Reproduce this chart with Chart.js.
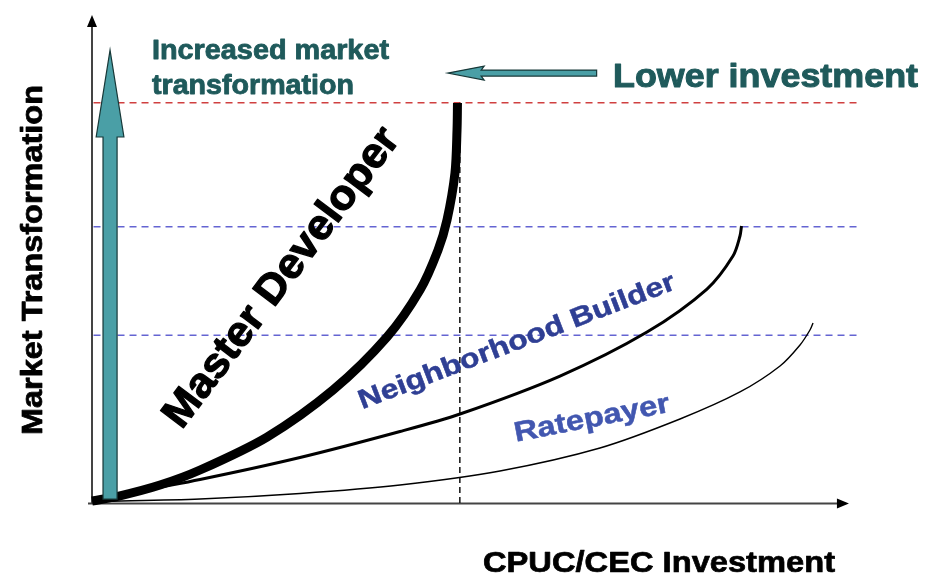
<!DOCTYPE html>
<html>
<head>
<meta charset="utf-8">
<script src="https://cdn.jsdelivr.net/npm/chart.js@4.4.1/dist/chart.umd.min.js"></script>
<style>
html,body{margin:0;padding:0;background:#fff;}
#wrap{width:926px;height:574px;position:relative;}
</style>
</head>
<body>
<div id="wrap"><canvas id="c"></canvas></div>
<script>
// ---- data (axis units 0..100) ----
const seriesNames = ['Master Developer', 'Neighborhood Builder', 'Ratepayer'];
const xMaster = [0, 3.68, 8.95, 14.21, 23.03, 31.71, 38.82, 43.16, 45.53, 46.71, 47.76, 48.03, 48.09];
const yMaster = [0.41, 1.48, 3.69, 6.76, 13.52, 23.16, 34.02, 43.65, 51.84, 57.99, 67.62, 76.43, 81.97];
const xNeighborhood = [1.05, 14.21, 27.37, 40.53, 48.42, 61.58, 73.03, 80.92, 84.34, 85.26, 85.46];
const yNeighborhood = [0.92, 4.82, 9.32, 14.65, 18.24, 26.02, 35.04, 43.85, 50.61, 54.71, 56.76];
const xRatepayer = [1.05, 14.21, 27.37, 40.53, 53.68, 66.84, 77.37, 85.26, 90.53, 93.16, 94.47, 94.87];
const yRatepayer = [0.31, 0.82, 1.95, 3.69, 6.56, 11.27, 17.21, 22.75, 28.07, 32.38, 35.45, 36.89];
const levelTop = 82;          // red dashed level
const levelsBlue = [56.6, 34.4];
const levelSpan = [0.2, 100.7];
const investX = 48.4;         // vertical dashed marker
const axisTitleX = 'CPUC/CEC Investment';
const axisTitleY = 'Market Transformation';
const noteUp = ['Increased market', 'transformation'];
const noteLeft = 'Lower investment';

const pts = (xs, ys) => xs.map((x, i) => ({x, y: ys[i]}));

const datasets = [
  {label: seriesNames[0], data: pts(xMaster, yMaster), borderColor: '#000', borderWidth: 9, tension: 0.3, order: 1, borderCapStyle: 'butt'},
  {label: seriesNames[1], data: pts(xNeighborhood, yNeighborhood), borderColor: '#000', borderWidth: 3, tension: 0.3, order: 2},
  {label: seriesNames[2], data: pts(xRatepayer, yRatepayer), borderColor: '#000', borderWidth: 1.4, tension: 0.3, order: 3},
  {label: 'top', data: pts(levelSpan, [levelTop, levelTop]), borderColor: '#d04040', borderWidth: 1.5, borderDash: [7, 5], order: 6},
  {label: 'b1', data: pts(levelSpan, [levelsBlue[0], levelsBlue[0]]), borderColor: '#6464d2', borderWidth: 1.5, borderDash: [7, 5], order: 6},
  {label: 'b2', data: pts(levelSpan, [levelsBlue[1], levelsBlue[1]]), borderColor: '#6464d2', borderWidth: 1.5, borderDash: [7, 5], order: 6},
  {label: 'v', data: pts([investX, investX], [0, levelTop]), borderColor: '#111', borderWidth: 1.5, borderDash: [6, 4], order: 5}
].map(d => Object.assign({showLine: true, pointRadius: 0, fill: false, clip: false}, d));

function stretchText(ctx, txt, x, y, angle, size, width, color, align, baseline, weight) {
  ctx.save();
  ctx.font = 'bold ' + size + 'px "Liberation Sans", Arial, sans-serif';
  const w = ctx.measureText(txt).width;
  const s = width / w;
  ctx.translate(x, y);
  ctx.rotate(angle);
  ctx.scale(s, 1);
  ctx.fillStyle = color;
  ctx.strokeStyle = color;
  ctx.lineJoin = 'round';
  ctx.lineWidth = (weight || 1) / s;
  ctx.textAlign = align || 'left';
  ctx.textBaseline = baseline || 'alphabetic';
  ctx.fillText(txt, 0, 0);
  ctx.strokeText(txt, 0, 0);
  ctx.restore();
}

const decor = {
  id: 'decor',
  beforeDatasetsDraw(chart) {
    const ctx = chart.ctx, xs = chart.scales.x, ys = chart.scales.y;
    const x0 = xs.getPixelForValue(0), y0 = ys.getPixelForValue(0);
    const yTop = ys.getPixelForValue(100), xEnd = xs.getPixelForValue(99.6);
    ctx.save();
    ctx.strokeStyle = '#444';
    ctx.lineWidth = 2;
    ctx.beginPath();
    ctx.moveTo(x0, y0); ctx.lineTo(x0, yTop + 8);
    ctx.moveTo(x0 - 4, y0 + 0.5); ctx.lineTo(xEnd - 8, y0 + 0.5);
    ctx.stroke();
    ctx.fillStyle = '#000';
    ctx.beginPath();
    ctx.moveTo(x0, yTop); ctx.lineTo(x0 - 5, yTop + 12); ctx.lineTo(x0 + 5, yTop + 12); ctx.closePath();
    ctx.fill();
    ctx.beginPath();
    ctx.moveTo(xEnd, y0 + 0.5); ctx.lineTo(xEnd - 12, y0 - 4.5); ctx.lineTo(xEnd - 12, y0 + 5.5); ctx.closePath();
    ctx.fill();
    ctx.restore();
  },
  afterDatasetsDraw(chart) {
    const ctx = chart.ctx, xs = chart.scales.x, ys = chart.scales.y;
    const px = v => xs.getPixelForValue(v), py = v => ys.getPixelForValue(v);
    ctx.save();
    // vertical teal arrow
    ctx.fillStyle = '#4a9fa6';
    ctx.strokeStyle = '#173838';
    ctx.lineWidth = 1.2;
    ctx.beginPath();
    const sx1 = px(1.45), sx2 = px(3.3), sb = py(0.8), hb = py(75), tip = py(92.8);
    const hx1 = px(0.55), hx2 = px(4.2), hc = (sx1 + sx2) / 2;
    ctx.moveTo(sx1, sb); ctx.lineTo(sx1, hb); ctx.lineTo(hx1, hb); ctx.lineTo(hc, tip);
    ctx.lineTo(hx2, hb); ctx.lineTo(sx2, hb); ctx.lineTo(sx2, sb); ctx.closePath();
    ctx.fill(); ctx.stroke();
    // horizontal teal arrow
    const tx = px(46.8), ty = py(88.1), bx = px(51.6), ex = px(66.4);
    ctx.beginPath();
    ctx.moveTo(tx, ty); ctx.lineTo(bx, ty - 7); ctx.lineTo(bx - 3, ty - 3); ctx.lineTo(ex, ty - 3);
    ctx.lineTo(ex, ty + 3); ctx.lineTo(bx - 3, ty + 3); ctx.lineTo(bx, ty + 7); ctx.closePath();
    ctx.fill(); ctx.stroke();
    ctx.restore();

    const teal = '#1f5a5b';
    stretchText(ctx, noteUp[0], 152, 59, 0, 28, 237, teal, 'left', 'alphabetic', 0.9);
    stretchText(ctx, noteUp[1], 152, 94, 0, 28, 202, teal, 'left', 'alphabetic', 0.9);
    stretchText(ctx, noteLeft, 613, 87, 0, 33, 305, teal, 'left', 'alphabetic', 1.1);
    stretchText(ctx, axisTitleY, 42, 260, -Math.PI / 2, 30, 350, '#000', 'center', 'alphabetic', 0.8);
    stretchText(ctx, axisTitleX, 483, 572, 0, 29, 352, '#000', 'left', 'alphabetic', 0.8);
    stretchText(ctx, seriesNames[0], 282, 278, -53 * Math.PI / 180, 42, 364, '#000', 'center', 'middle', 1.3);
    stretchText(ctx, seriesNames[1], 517, 342, -21 * Math.PI / 180, 27, 337, '#2f3f94', 'center', 'middle', 0.6);
    stretchText(ctx, seriesNames[2], 592, 419, -11 * Math.PI / 180, 28, 158, '#4257b0', 'center', 'middle', 0.6);
  }
};

new Chart(document.getElementById('c'), {
  type: 'scatter',
  data: {datasets},
  options: {
    responsive: true,
    maintainAspectRatio: false,
    animation: false,
    layout: {padding: {left: 92, right: 74, top: 15, bottom: 71}},
    plugins: {legend: {display: false}, tooltip: {enabled: false}},
    scales: {
      x: {type: 'linear', min: 0, max: 100, display: false},
      y: {type: 'linear', min: 0, max: 100, display: false}
    }
  },
  plugins: [decor]
});
</script>
</body>
</html>
